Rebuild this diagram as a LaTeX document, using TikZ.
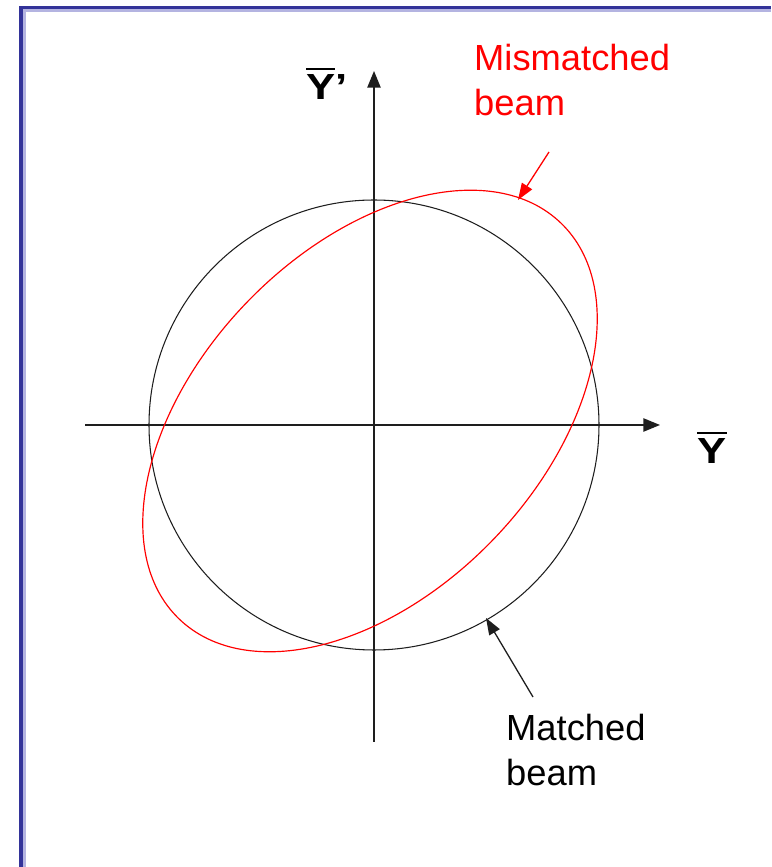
\documentclass[tikz,border=0pt]{standalone}
\usepackage{fontspec}
\setmainfont{Liberation Sans}
\usetikzlibrary{arrows.meta,positioning}
\definecolor{framblue}{RGB}{51,51,153}
\definecolor{framlight}{RGB}{180,180,225}
\definecolor{beamred}{RGB}{255,0,0}
\definecolor{axisgray}{RGB}{30,30,30}
\newcommand\barredY{\leavevmode\setbox0\hbox{Y}\rlap{\rule[\dimexpr\ht0+4pt\relax]{\wd0}{1.4pt}}\box0}
\tikzset{
  axis/.style={draw=axisgray,line width=1.2pt,-{Triangle[length=5mm,width=4mm]}},
  matched/.style={draw=axisgray,line width=0.9pt},
  mismatched/.style={draw=beamred,line width=1.0pt},
  pointer/.style={line width=1.1pt,-{Triangle[length=5mm,width=3.6mm]}},
  lab/.style={inner sep=0pt,align=left,font=\fontsize{31}{38.5}\selectfont},
  axlab/.style={inner sep=0pt,xscale=1.2,font=\fontsize{31}{31}\selectfont\bfseries}
}

\begin{document}
\begin{tikzpicture}[x=0.03cm,y=0.03cm]
\useasboundingbox[fill=white] (0,0) rectangle (771,867);
% frame along the left and top edges
\draw[framlight,line width=2pt] (24.5,0) -- (24.5,856.5) -- (771,856.5);
\draw[framblue,line width=3.2pt] (21,0) -- (21,859.5) -- (771,859.5);

% axes
\coordinate (o) at (374,442);
\coordinate (ybot) at (374,125);
\coordinate (ytop) at (374,796);
\coordinate (xleft) at (85,442);
\coordinate (xright) at (660,442);
\draw[axis] (ybot) -- (ytop);
\draw[axis] (xleft) -- (xright);
\node[axlab] (yplab) at (327,783) {\barredY'};
\node[axlab] (ylab) at (712,419) {\barredY};

% beams
\draw[matched] (o) circle [radius=225];
\coordinate (ec) at (370,446);
\draw[mismatched,rotate around={46:(ec)}] (ec) ellipse [x radius=275,y radius=171];

% labels and pointers
\node[lab,text=beamred,anchor=north west] (mislab) at (474,823) {Mismatched\\beam};
\coordinate (mistail) at (549,715);
\coordinate (mistip) at (518,667);
\draw[pointer,beamred] (mistail) -- (mistip);

\node[lab,anchor=north west] (matlab) at (506,153) {Matched\\beam};
\coordinate (mattail) at (533,170);
\coordinate (mattip) at (486,249);
\draw[pointer,axisgray] (mattail) -- (mattip);
\end{tikzpicture}
\end{document}
